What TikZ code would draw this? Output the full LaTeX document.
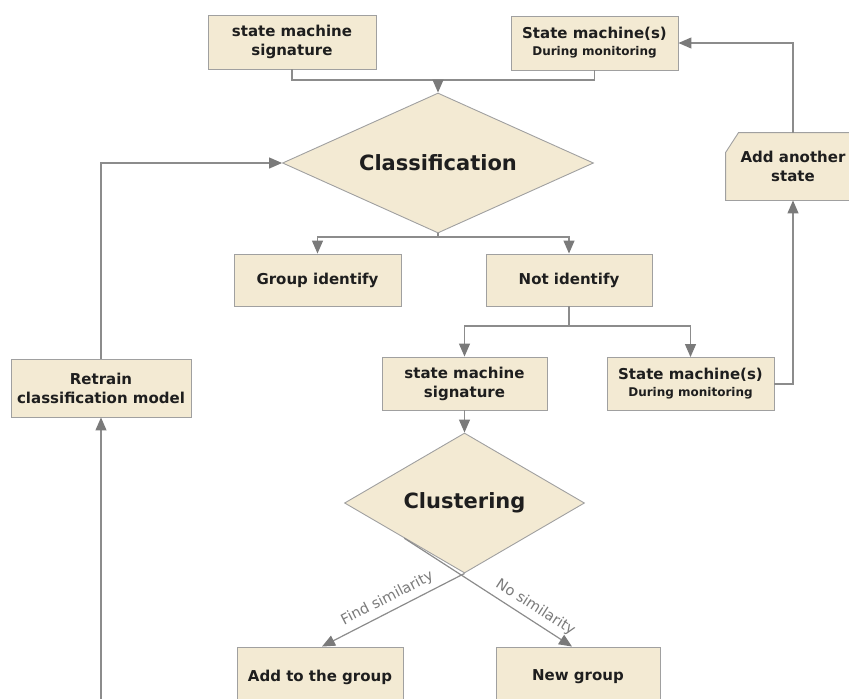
\documentclass[tikz,border=0pt]{standalone}
\usepackage{fontspec}
\setmainfont{DejaVu Sans}
\usetikzlibrary{arrows.meta,shapes.geometric,calc,backgrounds}
\definecolor{boxfill}{HTML}{F3EAD3}
\definecolor{boxline}{HTML}{A0A0A0}
\definecolor{conn}{HTML}{8C8C8C}
\definecolor{tipcol}{HTML}{7A7A7A}
\definecolor{txt}{HTML}{1E1E1E}
\definecolor{lbl}{HTML}{7A7A7A}
\tikzset{
  x=1pt, y=-1pt,
  box/.style={draw=boxline, fill=boxfill, line width=0.9pt, rectangle,
    inner sep=0pt, align=center, text=txt,
    font=\fontsize{15}{19}\selectfont\bfseries},
  decision/.style={draw=boxline, fill=boxfill, line width=0.9pt, diamond,
    inner sep=0pt, text=txt, font=\fontsize{21}{23}\selectfont\bfseries},
  link/.style={draw=conn, line width=1.2pt},
  arr/.style={link, -{Triangle[length=13pt,width=11pt,fill=tipcol,color=tipcol]}},
  edgelabel/.style={text=lbl, font=\fontsize{14.5}{16}\selectfont, sloped, above=2pt}
}
\begin{document}
\begin{tikzpicture}
\useasboundingbox (0,0) rectangle (849,699);

% input boxes at the top
\node[box, minimum width=168, minimum height=54] (sig1) at (292,42)
  {state machine\\signature};
\node[box, minimum width=167, minimum height=54] (mon1) at (594.5,43)
  {State machine(s)\\[-2pt]{\fontsize{12}{14}\selectfont During monitoring}};

% classification step
\node[decision, shape aspect=2.22, minimum width=311, minimum height=140] (cls) at (438,163)
  {Classification};
\node[box, minimum width=167, minimum height=52] (grp) at (317.5,280)
  {Group identify};
\node[box, minimum width=166, minimum height=52] (notid) at (569,280)
  {Not identify};

% unidentified branch
\node[box, minimum width=165, minimum height=53] (sig2) at (464.5,383.5)
  {state machine\\signature};
\node[box, minimum width=167, minimum height=53] (mon2) at (690.5,384)
  {State machine(s)\\[-2pt]{\fontsize{12}{14}\selectfont During monitoring}};
\node[box, draw=none, fill=none, minimum width=134, minimum height=67] (addst) at (793,166.5)
  {Add another\\state};
\begin{scope}[on background layer]
  \draw[draw=boxline, fill=boxfill, line width=0.9pt]
    ($(addst.north west)+(0,20)$) -- ($(addst.north west)+(13,0)$)
    -- (addst.north east) -- (addst.south east) -- (addst.south west) -- cycle;
\end{scope}

% clustering step
\node[decision, shape aspect=1.71, minimum width=240, minimum height=140] (clu) at (464.5,503)
  {Clustering};
\node[box, minimum width=166, minimum height=60] (addg) at (320,677)
  {Add to the group};
\node[box, minimum width=164, minimum height=60] (newg) at (578,677)
  {New group};

% retraining loop
\node[box, minimum width=180, minimum height=58] (retr) at (101,388)
  {Retrain\\classification model};

% connectors
\coordinate (j1) at (438,80);
\draw[link] (sig1.south) |- (j1) -| (mon1.south);
\draw[arr] (j1) -- (cls.north);

\coordinate (j2) at (438,237);
\draw[link] (cls.south) -- (j2);
\draw[arr] (j2) -| (grp.north);
\draw[arr] (j2) -| (notid.north);

\coordinate (j3) at (569,326);
\draw[link] (notid.south) -- (j3);
\draw[arr] (j3) -| (sig2.north);
\draw[arr] (j3) -| (mon2.north);

\draw[arr] (mon2.east) -| (addst.south);
\draw[arr] (addst.north) |- (mon1.east);

\draw[arr] (sig2.south) -- (clu.north);

\coordinate (cluSW) at ($(clu.west)!0.5!(clu.south)$);
\draw[arr] (clu.south) -- node[edgelabel, pos=0.5] {Find similarity} ($(addg.north)+(2,0)$);
\draw[arr] (cluSW) -- node[edgelabel, pos=0.74] {No similarity} ($(newg.north)+(-6,0)$);

\coordinate (rb) at (101,699);
\draw[arr] (rb) -- (retr.south);
\draw[arr] (retr.north) |- (cls.west);
\end{tikzpicture}
\end{document}
